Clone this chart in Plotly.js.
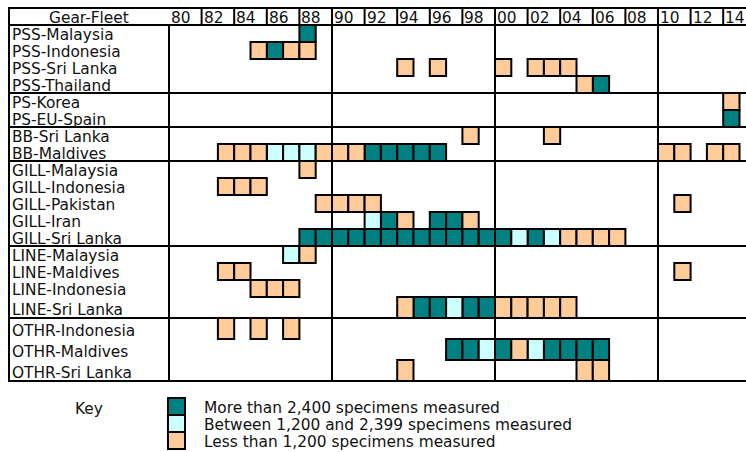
<!DOCTYPE html>
<html><head><meta charset="utf-8">
<script src="https://cdn.plot.ly/plotly-3.0.1.min.js"></script>
<style>html,body{margin:0;padding:0;background:#fff}</style>
</head><body><div id="chart" style="width:746px;height:452px"></div>
<script>
// ---------- DATA ----------
const headerLabel = 'Gear-Fleet';
const rowLabels = [
  'PSS-Malaysia','PSS-Indonesia','PSS-Sri Lanka','PSS-Thailand',
  'PS-Korea','PS-EU-Spain',
  'BB-Sri Lanka','BB-Maldives',
  'GILL-Malaysia','GILL-Indonesia','GILL-Pakistan','GILL-Iran','GILL-Sri Lanka',
  'LINE-Malaysia','LINE-Maldives','LINE-Indonesia','LINE-Sri Lanka',
  'OTHR-Indonesia','OTHR-Maldives','OTHR-Sri Lanka'
];
const groupSizes = [4, 2, 2, 5, 4, 3];
const yearTicks = [1980,1982,1984,1986,1988,1990,1992,1994,1996,1998,2000,2002,2004,2006,2008,2010,2012,2014];
const yearTickLabels = ['80','82','84','86','88','90','92','94','96','98','00','02','04','06','08','10','12','14'];
const levelNames = ['More than 2,400 specimens measured','Between 1,200 and 2,399 specimens measured','Less than 1,200 specimens measured'];
const keyLabel = 'Key';

const over2400 = {
  'PSS-Malaysia': [1988],
  'PSS-Indonesia': [1986],
  'PSS-Thailand': [2006],
  'PS-EU-Spain': [2014],
  'BB-Maldives': [1992,1993,1994,1995,1996],
  'GILL-Iran': [1993,1996,1997],
  'GILL-Sri Lanka': [1988,1989,1990,1991,1992,1993,1994,1995,1996,1997,1998,1999,2000,2002],
  'LINE-Sri Lanka': [1995,1996,1998,1999],
  'OTHR-Maldives': [1997,1998,2000,2003,2004,2005,2006]
};
const between1200and2399 = {
  'BB-Maldives': [1986,1987,1988],
  'GILL-Iran': [1992],
  'GILL-Sri Lanka': [2001,2003],
  'LINE-Malaysia': [1987],
  'LINE-Sri Lanka': [1997],
  'OTHR-Maldives': [1999,2002]
};
const under1200 = {
  'PSS-Indonesia': [1985,1987,1988],
  'PSS-Sri Lanka': [1994,1996,2000,2002,2003,2004],
  'PSS-Thailand': [2005],
  'PS-Korea': [2014],
  'BB-Sri Lanka': [1998,2003],
  'BB-Maldives': [1983,1984,1985,1989,1990,1991,2010,2011,2013,2014],
  'GILL-Malaysia': [1988],
  'GILL-Indonesia': [1983,1984,1985],
  'GILL-Pakistan': [1989,1990,1991,1992,2011],
  'GILL-Iran': [1994,1998],
  'GILL-Sri Lanka': [2004,2005,2006,2007],
  'LINE-Malaysia': [1988],
  'LINE-Maldives': [1983,1984,2011],
  'LINE-Indonesia': [1985,1986,1987],
  'LINE-Sri Lanka': [1994,2000,2001,2002,2003,2004],
  'OTHR-Indonesia': [1983,1985,1987],
  'OTHR-Maldives': [2001],
  'OTHR-Sri Lanka': [1994,2005,2006]
};
const levelData = [over2400, between1200and2399, under1200];

// ---------- STYLE / LAYOUT ----------
const levelColors = ['#008080', '#CCFFFF', '#FFCC99'];
const W = 746, H = 452;
const gridLeftPx = 169, yearPx = 16.3, tableLeftPx = 9;
const headerTop = 8, headerBottom = 25;
const tallRows = ['LINE-Sri Lanka','OTHR-Indonesia','OTHR-Maldives','OTHR-Sri Lanka'];
const FONT = {family: 'DejaVu Sans, Verdana, sans-serif', size: 15.4, color: '#111'};
const firstYear = yearTicks[0];
const xr = [firstYear - gridLeftPx / yearPx, firstYear + (W - gridLeftPx) / yearPx];

// row geometry
const rowTop = {}, rowH = {};
let yy = headerBottom;
rowLabels.forEach(r => { const h = tallRows.includes(r) ? 21 : 17; rowTop[r] = yy; rowH[r] = h; yy += h; });
const tableBottom = yy;
const groupBottoms = [];
{ let i = 0; groupSizes.forEach(n => { i += n; const r = rowLabels[i-1]; groupBottoms.push(rowTop[r] + rowH[r]); }); }

// traces
const traces = levelData.map((d, k) => {
  const x = [], base = [], y = [];
  Object.keys(d).forEach(r => d[r].forEach(yr => { x.push(yr + 0.5); base.push(rowTop[r]); y.push(rowH[r]); }));
  return {type: 'bar', x, y, base, width: x.map(() => 1), name: levelNames[k],
    marker: {color: levelColors[k], line: {color: '#000', width: 2}}, hoverinfo: 'skip', showlegend: false};
});

const L = (x0, y0, x1, y1, xref) => ({type: 'line', xref: xref || 'paper', yref: 'y', x0, y0, x1, y1, layer: 'above', line: {color: '#000', width: 2}});
const px = p => p / W;
const shapes = [];
shapes.push(L(px(tableLeftPx), headerTop, 1, headerTop));
shapes.push(L(px(tableLeftPx), headerBottom, 1, headerBottom));
groupBottoms.forEach(b => shapes.push(L(px(tableLeftPx), b, 1, b)));
shapes.push(L(px(tableLeftPx), headerTop - 1, px(tableLeftPx), tableBottom + 1));
[1980, 1990, 2000, 2010].forEach(yr => shapes.push(L(yr, headerBottom, yr, tableBottom, 'x')));
yearTicks.slice(1).forEach(yr => shapes.push(L(yr, headerTop, yr, headerBottom, 'x')));

// legend swatches
const keyTop = 398, keyH = 17;
levelColors.forEach((c, k) => shapes.push({type: 'rect', xref: 'paper', yref: 'y', x0: px(168), x1: px(185),
  y0: keyTop + k * keyH, y1: keyTop + (k + 1) * keyH, fillcolor: c, line: {color: '#000', width: 2}, layer: 'above'}));

const annotations = [];
annotations.push({xref: 'paper', yref: 'y', x: px((tableLeftPx + gridLeftPx) / 2), y: (headerTop + headerBottom) / 2 + 1,
  text: headerLabel, showarrow: false, xanchor: 'center', yanchor: 'middle', font: FONT, borderpad: 0});
yearTicks.forEach((yr, i) => annotations.push({xref: 'x', yref: 'y', x: yr, y: (headerTop + headerBottom) / 2 + 1, xshift: 1,
  text: yearTickLabels[i], showarrow: false, xanchor: 'left', yanchor: 'middle', font: FONT, borderpad: 0}));
rowLabels.forEach(r => annotations.push({xref: 'paper', yref: 'y', x: px(11), y: rowTop[r] + rowH[r] / 2 + (rowH[r] > 17 ? 2.5 : 1.5),
  text: r, showarrow: false, xanchor: 'left', yanchor: 'middle', font: FONT, borderpad: 0}));
annotations.push({xref: 'paper', yref: 'y', x: px(74), y: 408.5, text: keyLabel, showarrow: false, xanchor: 'left', yanchor: 'middle', font: FONT, borderpad: 0});
levelNames.forEach((t, k) => annotations.push({xref: 'paper', yref: 'y', x: px(203), y: keyTop + k * keyH + keyH / 2 + 1,
  text: t, showarrow: false, xanchor: 'left', yanchor: 'middle', font: FONT, borderpad: 0}));

const layout = {
  width: W, height: H, margin: {l: 0, r: 0, t: 0, b: 0, pad: 0},
  paper_bgcolor: '#fff', plot_bgcolor: '#fff', barmode: 'overlay', bargap: 0,
  xaxis: {range: xr, visible: false, fixedrange: true},
  yaxis: {range: [H, 0], visible: false, fixedrange: true},
  shapes, annotations, showlegend: false, font: FONT
};
Plotly.newPlot('chart', traces, layout, {staticPlot: true, displayModeBar: false});
</script></body></html>
